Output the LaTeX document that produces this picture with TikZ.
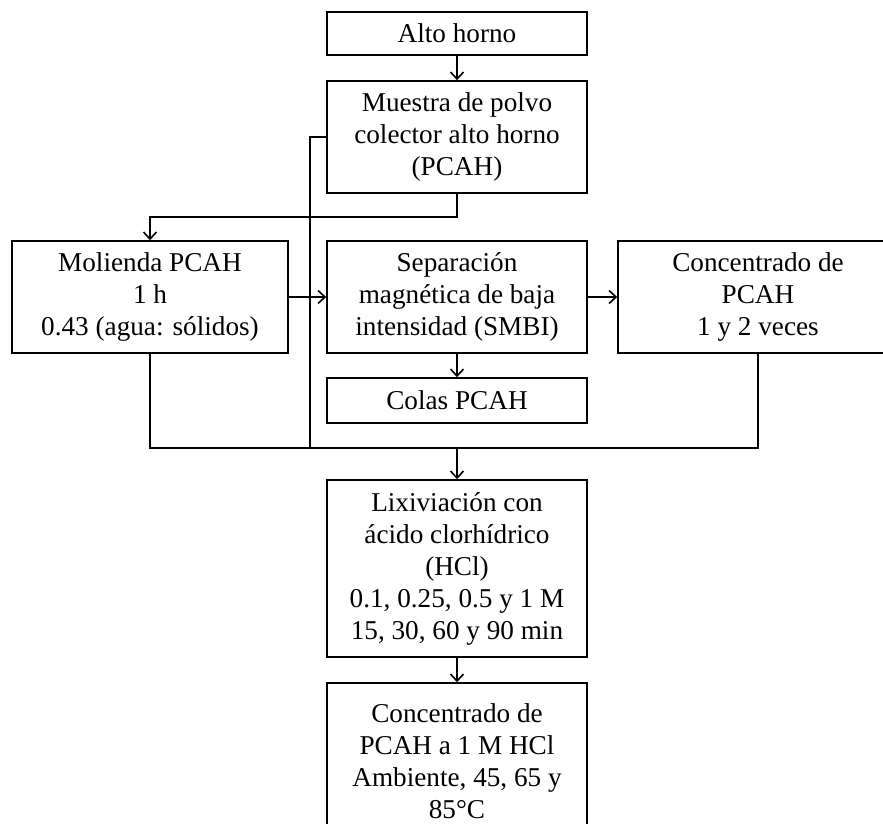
\documentclass[tikz,border=0pt]{standalone}
\usepackage{fontspec}
\setmainfont{Liberation Serif}
\usepackage{tikz}
\usetikzlibrary{arrows.meta}

\tikzset{
    caja/.style={draw, line width=0.8pt, align=center, inner sep=0pt, minimum width=130pt},
    flecha/.style={-{Straight Barb[length=3.5pt, width=6.5pt]}, line width=0.8pt},
    linea/.style={line width=0.8pt}
}

\begin{document}
\begin{tikzpicture}[x=0.5pt, y=-0.5pt, font=\fontsize{13.6}{16}\selectfont]
            \clip (0, 0) rectangle (883, 824);
            \node[caja, minimum height=21.5pt] (alto) at (457, 33.5) {Alto horno};
            \node[caja, minimum height=56pt] (muestra) at (457, 137) {Muestra de polvo\\colector alto horno\\(PCAH)};
            \node[caja, minimum height=56pt, minimum width=138pt] (molienda) at (150, 297) {Molienda PCAH\\1 h\\0.43 (agua: sólidos)};
            \node[caja, minimum height=56pt] (smbi) at (457, 297) {Separación\\magnética de baja\\intensidad (SMBI)};
            \node[caja, minimum height=56pt, minimum width=140pt] (conc) at (758, 297) {Concentrado de\\PCAH\\1 y 2 veces};
            \node[caja, minimum height=22.5pt] (colas) at (457, 400.5) {Colas PCAH};
            \node[caja, minimum height=88.5pt] (lixi) at (457, 568.5) {Lixiviación con\\ácido clorhídrico\\(HCl)\\0.1, 0.25, 0.5 y 1 M\\15, 30, 60 y 90 min};
            \node[caja, minimum height=78.5pt] (final) at (457, 761.5) {Concentrado de\\PCAH a 1 M HCl\\Ambiente, 45, 65 y\\85°C};
            \coordinate (reparto) at (457, 217);
            \coordinate (union) at (457, 448);
            \coordinate (bajada) at (310, 448);
            \draw[flecha] (alto) -- (muestra);
            \draw[flecha] (muestra.south) -- (reparto) -| (molienda.north);
            \draw[linea] (muestra.west) -| (bajada);
            \draw[flecha] (molienda) -- (smbi);
            \draw[flecha] (smbi) -- (conc);
            \draw[flecha] (smbi) -- (colas);
            \draw[linea] (molienda.south) |- (union) -| (conc.south);
            \draw[flecha] (union) -- (lixi.north);
            \draw[flecha] (lixi) -- (final);
        \end{tikzpicture}
\end{document}
